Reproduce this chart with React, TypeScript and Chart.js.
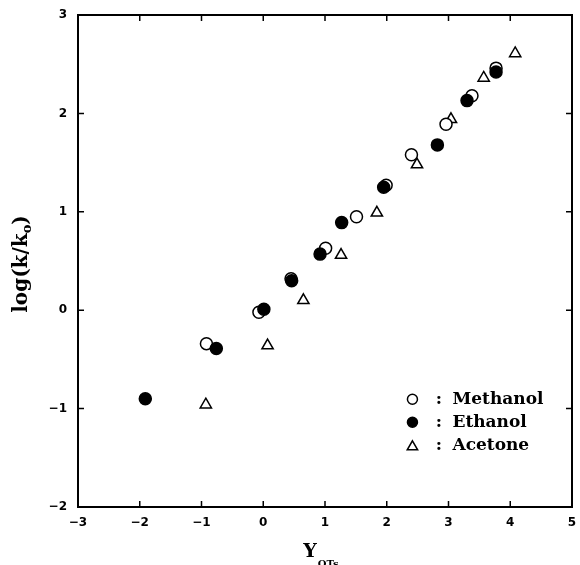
import React, { useEffect, useRef } from 'react';
import { Chart, registerables } from 'chart.js';

Chart.register(...registerables);

// ---- data ----
const seriesNames = ['Methanol', 'Ethanol', 'Acetone'];
const methanolX = [-0.92, -0.07, 0.45, 1.01, 1.51, 1.99, 2.40, 2.96, 3.38, 3.77];
const methanolY = [-0.34, -0.02, 0.32, 0.63, 0.95, 1.27, 1.58, 1.89, 2.18, 2.46];
const ethanolX = [-1.91, -0.76, 0.01, 0.46, 0.92, 1.27, 1.95, 2.82, 3.30, 3.77];
const ethanolY = [-0.90, -0.39, 0.01, 0.30, 0.57, 0.89, 1.25, 1.68, 2.13, 2.42];
const acetoneX = [-0.93, 0.07, 0.65, 1.26, 1.84, 2.49, 3.04, 3.57, 4.08];
const acetoneY = [-0.96, -0.36, 0.10, 0.56, 0.99, 1.48, 1.94, 2.36, 2.61];

const xMin = -3;
const xMax = 5;
const yMin = -2;
const yMax = 3;
const tickStep = 1;

const yTitleMain = 'log(k/k';
const yTitleSub = 'o';
const yTitleEnd = ')';
const xTitleMain = 'Y';
const xTitleSub = 'OTs';

const SERIF = '"DejaVu Serif", serif';
const SANS = '"DejaVu Sans", sans-serif';

function toPoints(xs: number[], ys: number[]) {
  return xs.map((x, i) => ({ x, y: ys[i] }));
}

function drawMarker(
  ctx: CanvasRenderingContext2D,
  style: string,
  x: number,
  y: number,
  r: number,
  fill: string,
  stroke: string,
  lw: number
) {
  ctx.beginPath();
  if (style === 'triangle') {
    const a = (2 * Math.PI) / 3;
    ctx.moveTo(x, y - r);
    ctx.lineTo(x + Math.sin(a) * r, y - Math.cos(a) * r);
    ctx.lineTo(x + Math.sin(2 * a) * r, y - Math.cos(2 * a) * r);
    ctx.closePath();
  } else {
    ctx.arc(x, y, r, 0, Math.PI * 2);
  }
  ctx.fillStyle = fill;
  ctx.fill();
  ctx.lineWidth = lw;
  ctx.strokeStyle = stroke;
  ctx.stroke();
}

const decorPlugin = {
  id: 'decor',
  beforeDraw(chart: any) {
    const { ctx, width, height } = chart;
    ctx.save();
    ctx.fillStyle = '#fff';
    ctx.fillRect(0, 0, width, height);
    ctx.restore();
  },
  afterDraw(chart: any) {
    const { ctx, chartArea: a, scales } = chart;
    const xs = scales.x;
    const ys = scales.y;
    ctx.save();
    ctx.strokeStyle = '#000';
    ctx.lineWidth = 2;
    ctx.strokeRect(a.left, a.top, a.right - a.left, a.bottom - a.top);

    // inward ticks on all four sides
    const tl = 6;
    ctx.lineWidth = 1.5;
    ctx.beginPath();
    xs.ticks.forEach((t: any) => {
      const px = xs.getPixelForValue(t.value);
      ctx.moveTo(px, a.bottom);
      ctx.lineTo(px, a.bottom - tl);
      ctx.moveTo(px, a.top);
      ctx.lineTo(px, a.top + tl);
    });
    ys.ticks.forEach((t: any) => {
      const py = ys.getPixelForValue(t.value);
      ctx.moveTo(a.left, py);
      ctx.lineTo(a.left + tl, py);
      ctx.moveTo(a.right, py);
      ctx.lineTo(a.right - tl, py);
    });
    ctx.stroke();

    // legend inside plot area (lower right)
    const legX = a.left + (a.right - a.left) * 0.677;
    const legY0 = a.top + (a.bottom - a.top) * 0.781;
    const rowH = 23;
    const order = [1, 0, 2]; // dataset indices for Methanol, Ethanol, Acetone
    ctx.font = `bold 17px ${SERIF}`;
    ctx.textBaseline = 'alphabetic';
    ctx.textAlign = 'left';
    order.forEach((di, row) => {
      const ds = chart.data.datasets[di];
      const cy = legY0 + row * rowH;
      const my = ds.pointStyle === 'triangle' ? cy + 1.5 : cy;
      drawMarker(ctx, ds.pointStyle, legX, my, ds.pointStyle === 'triangle' ? 6 : 5, ds.backgroundColor, ds.borderColor, 1.5);
      ctx.fillStyle = '#000';
      ctx.textAlign = 'center';
      ctx.fillText(':', legX + 26.5, cy + 5);
      ctx.textAlign = 'left';
      ctx.fillText(ds.label, legX + 40, cy + 5);
    });

    // y-axis title (rotated, with subscript)
    const mainFont = `bold 20px ${SERIF}`;
    const subFont = `bold 13px ${SERIF}`;
    ctx.font = mainFont;
    const w1 = ctx.measureText(yTitleMain).width;
    const w3 = ctx.measureText(yTitleEnd).width;
    ctx.font = subFont;
    const w2 = ctx.measureText(yTitleSub).width;
    const total = w1 + w2 + w3;
    ctx.save();
    ctx.translate(27, (a.top + a.bottom) / 2 + 3);
    ctx.rotate(-Math.PI / 2);
    ctx.fillStyle = '#000';
    ctx.textAlign = 'left';
    let cx = -total / 2;
    ctx.font = mainFont;
    ctx.fillText(yTitleMain, cx, 0);
    cx += w1;
    ctx.font = subFont;
    ctx.fillText(yTitleSub, cx, 4);
    cx += w2;
    ctx.font = mainFont;
    ctx.fillText(yTitleEnd, cx, 0);
    ctx.restore();

    // x-axis title with subscript
    ctx.fillStyle = '#000';
    ctx.textAlign = 'left';
    ctx.font = `bold 19px ${SERIF}`;
    const yw = ctx.measureText(xTitleMain).width;
    ctx.font = `bold 10px ${SERIF}`;
    const sw = ctx.measureText(xTitleSub).width;
    const xc = (a.left + a.right) / 2 - 4;
    const x0 = xc - (yw + sw + 1) / 2;
    ctx.font = `bold 19px ${SERIF}`;
    ctx.fillText(xTitleMain, x0, 557);
    ctx.font = `bold 10px ${SERIF}`;
    ctx.fillText(xTitleSub, x0 + yw + 1, 567);

    ctx.restore();
  },
};

function fmtTick(v: number | string) {
  const n = Number(v);
  return n < 0 ? '\u2212' + Math.abs(n) : String(n);
}

export default function App() {
  const ref = useRef<HTMLCanvasElement | null>(null);

  useEffect(() => {
    const canvas = ref.current;
    if (!canvas) return;
    const chart = new Chart(canvas, {
      type: 'scatter',
      data: {
        datasets: [
          {
            label: seriesNames[1],
            data: toPoints(ethanolX, ethanolY),
            pointStyle: 'circle',
            pointRadius: 6,
            pointBorderWidth: 1.5,
            backgroundColor: '#000',
            borderColor: '#000',
            order: 0,
          },
          {
            label: seriesNames[0],
            data: toPoints(methanolX, methanolY),
            pointStyle: 'circle',
            pointRadius: 6,
            pointBorderWidth: 1.5,
            backgroundColor: '#fff',
            borderColor: '#000',
            order: 1,
          },
          {
            label: seriesNames[2],
            data: toPoints(acetoneX, acetoneY),
            pointStyle: 'triangle',
            pointRadius: 6.5,
            pointBorderWidth: 1.5,
            backgroundColor: '#fff',
            borderColor: '#000',
            order: 2,
          },
        ],
      },
      options: {
        responsive: false,
        animation: false,
        layout: { padding: { top: 15, right: 0, left: 0, bottom: 0 } },
        plugins: {
          legend: { display: false },
          tooltip: { enabled: false },
        },
        scales: {
          x: {
            type: 'linear',
            min: xMin,
            max: xMax,
            grid: { display: false, drawTicks: false },
            border: { display: false },
            ticks: {
              stepSize: tickStep,
              padding: 9,
              color: '#000',
              font: { family: SANS, size: 12, weight: 'bold' },
              callback: fmtTick,
              maxRotation: 0,
            },
            afterFit: (s: any) => {
              s.height = 58;
              s.paddingLeft = 0;
              s.paddingRight = 0;
            },
          },
          y: {
            type: 'linear',
            min: yMin,
            max: yMax,
            grid: { display: false, drawTicks: false },
            border: { display: false },
            ticks: {
              stepSize: tickStep,
              padding: 11,
              color: '#000',
              font: { family: SANS, size: 12, weight: 'bold' },
              callback: fmtTick,
            },
            afterFit: (s: any) => {
              s.width = 78;
              s.paddingTop = 0;
              s.paddingBottom = 0;
            },
          },
        },
      },
      plugins: [decorPlugin],
    } as any);
    return () => chart.destroy();
  }, []);

  return (
    <div style={{ position: 'absolute', left: 0, top: 0, width: 580, height: 565, background: '#fff' }}>
      <canvas ref={ref} width={580} height={565} style={{ display: 'block' }} />
    </div>
  );
}
